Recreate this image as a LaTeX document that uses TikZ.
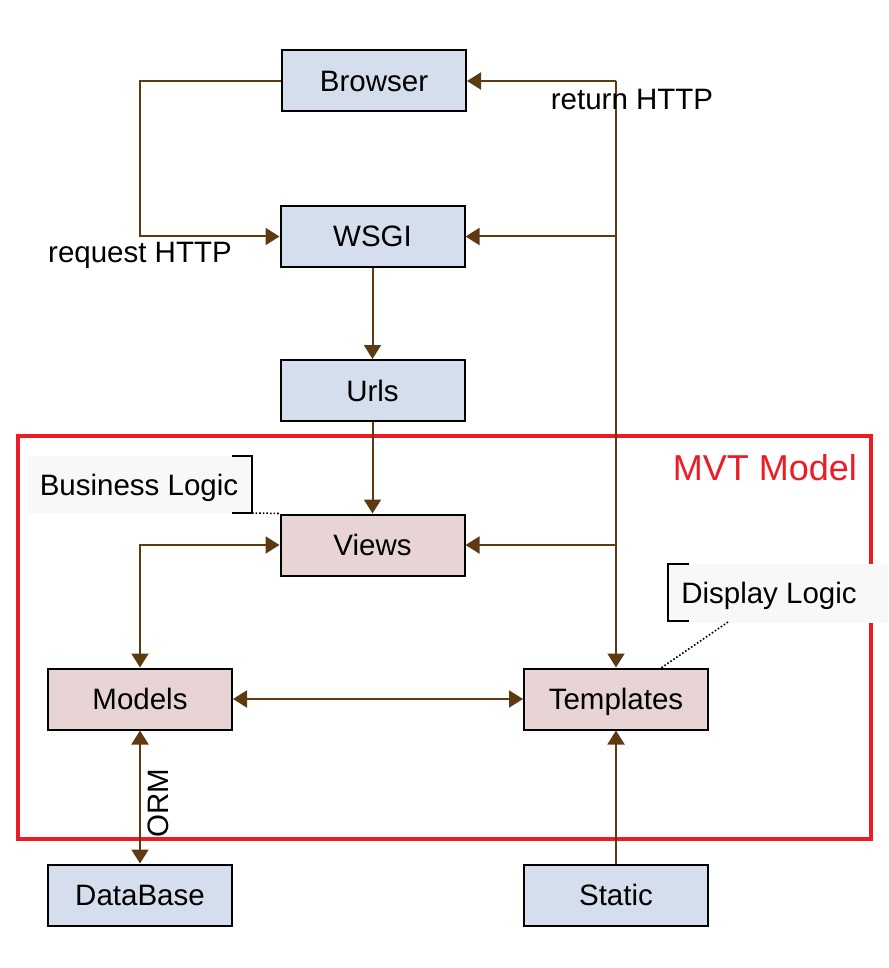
\documentclass[tikz,border=0pt]{standalone}
\usepackage{fontspec}
\setmainfont{Liberation Sans}
\usetikzlibrary{arrows.meta}
\definecolor{brn}{HTML}{5E3A12}
\definecolor{bluebox}{HTML}{D4DEEC}
\definecolor{pinkbox}{HTML}{E8D4D4}
\definecolor{mvtred}{HTML}{EC1C24}
\definecolor{notefill}{HTML}{F8F8F8}
\begin{document}
\begin{tikzpicture}[x=1pt,y=-1pt,
  box/.style={draw=black,line width=2pt,minimum width=184pt,minimum height=61pt,inner sep=0pt,font=\fontsize{29.5}{34}\selectfont,text height=21pt,text depth=0pt},
  bbox/.style={box,fill=bluebox},
  pbox/.style={box,fill=pinkbox},
  conn/.style={draw=brn,line width=2pt},
  arr/.style={conn,-{Triangle[length=14pt,width=17pt]}},
  darr/.style={conn,{Triangle[length=14pt,width=17pt]}-{Triangle[length=14pt,width=17pt]}},
  lbl/.style={font=\fontsize{29.5}{34}\selectfont,inner sep=0pt},
  note/.style={fill=notefill,inner sep=0pt,font=\fontsize{29.5}{34}\selectfont,text height=21pt,text depth=0pt},
  bracket/.style={draw=black,line width=2pt},
  dotline/.style={draw=black,line width=1.6pt,dotted}]
\useasboundingbox (0,0) rectangle (888,968);
% MVT frame
\node[draw=mvtred,line width=3.5pt,minimum width=853pt,minimum height=403pt,inner sep=0pt] (frame) at (444.5,637.5) {};
\node[text=mvtred,font=\fontsize{36}{40}\selectfont,inner sep=0pt] (mvt) at (765,468) {MVT Model};
% boxes
\node[bbox] (B) at (374,81) {Browser};
\node[bbox] (W) at (372.5,236.5) {WSGI};
\node[bbox] (U) at (372.5,390.5) {Urls};
\node[pbox] (V) at (372.5,545) {Views};
\node[pbox] (M) at (140,699) {Models};
\node[pbox] (T) at (616,699) {Templates};
\node[bbox] (D) at (140,895) {DataBase};
\node[bbox] (S) at (616,895) {Static};
% notes
\node[note,minimum width=222pt,minimum height=58pt] (BL) at (139,485) {Business Logic};
\draw[bracket] (232,456) -- (252,456) -- (252,513) -- (232,513);
\coordinate (blc) at (252,513);
\draw[dotline] (blc) -- (V.north west);
\node[note,minimum width=220pt,minimum height=59pt] (DL) at (778,593) {\hspace*{-18pt}Display Logic};
\draw[bracket] (689,564) -- (668,564) -- (668,621) -- (689,621);
\coordinate (dlc) at (728,622);
\coordinate (tpc) at (661,668);
\draw[dotline] (dlc) -- (tpc);
% connectors
\coordinate (l1) at (M.north |- B.west);
\draw[arr] (B.west) -- (l1) |- (W.west);
\node[lbl] (req) at (140,255) {request HTTP};
\coordinate (r1) at (T.north |- B.east);
\coordinate (r2) at (T.north |- W.east);
\coordinate (r3) at (T.north |- V.east);
\draw[arr] (r1) -- (T.north);
\draw[arr] (r1) -- (B.east);
\draw[arr] (r2) -- (W.east);
\draw[arr] (r3) -- (V.east);
\node[lbl] (ret) at (632,99) {return HTTP};
\draw[arr] (W.south) -- (U.north);
\draw[arr] (U.south) -- (V.north);
\draw[darr] (V.west) -| (M.north);
\draw[darr] (M.east) -- (T.west);
\draw[darr] (M.south) -- (D.north);
\node[lbl,rotate=90] (orm) at (158,803) {ORM};
\draw[arr] (S.north) -- (T.south);
\end{tikzpicture}
\end{document}
